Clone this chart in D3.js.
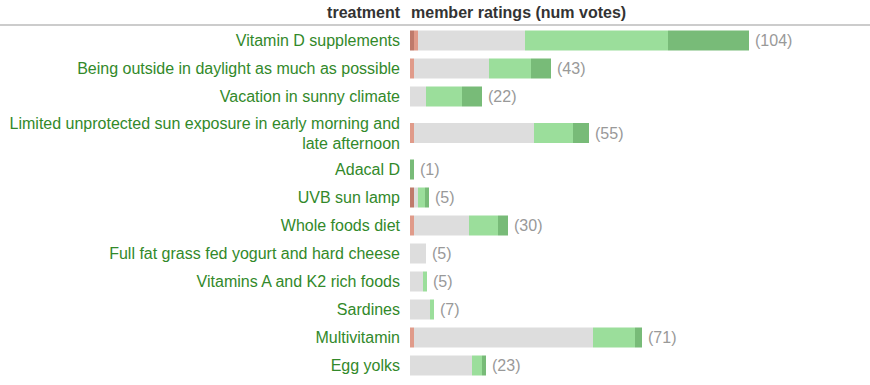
<!DOCTYPE html>
<html><head><meta charset="utf-8">
<script src="https://cdn.jsdelivr.net/npm/d3@7"></script>
<style>body{margin:0;background:#fff;} svg{display:block;}</style>
</head><body>
<script>
const treatments = [
  ["Vitamin D supplements"],
  ["Being outside in daylight as much as possible"],
  ["Vacation in sunny climate"],
  ["Limited unprotected sun exposure in early morning and", "late afternoon"],
  ["Adacal D"],
  ["UVB sun lamp"],
  ["Whole foods diet"],
  ["Full fat grass fed yogurt and hard cheese"],
  ["Vitamins A and K2 rich foods"],
  ["Sardines"],
  ["Multivitamin"],
  ["Egg yolks"]
];
// rating counts per treatment: [very negative, negative, neutral, positive, very positive]
const veryNegative = [1, 0, 0, 0, 0, 1, 0, 0, 0, 0, 0, 0];
const negative     = [1, 1, 0, 1, 0, 0, 1, 0, 0, 0, 1, 0];
const neutral      = [33, 23, 5, 37, 0, 1, 17, 5, 4, 6, 55, 19];
const positive     = [44, 13, 11, 12, 0, 2, 9, 0, 1, 1, 13, 3];
const veryPositive = [25, 6, 6, 5, 1, 1, 3, 0, 0, 0, 2, 1];
const headers = ["treatment", "member ratings (num votes)"];

const series = [veryNegative, negative, neutral, positive, veryPositive];
const colors = ["#bf7a6b", "#e09b8a", "#dddddd", "#9bde9b", "#78bb78"];

const W = 870, H = 385;
const svg = d3.select("body").append("svg").attr("width", W).attr("height", H);
const font = "'Liberation Sans', Arial, sans-serif";

const totals = treatments.map((t, i) => series.reduce((s, a) => s + a[i], 0));
const x = d3.scaleLinear().domain([0, 104]).range([0, 338]);
const barX = 410, labelX = 400;

// row layout
const singleH = 28, doubleH = 45;
let yc = [], cur = 40.5;
treatments.forEach((t, i) => {
  if (i > 0) {
    const hp = treatments[i - 1].length > 1 ? doubleH : singleH;
    const hc = t.length > 1 ? doubleH : singleH;
    cur += (hp + hc) / 2;
  }
  yc.push(cur);
});

// header
svg.append("text").attr("x", labelX).attr("y", 18).attr("text-anchor", "end")
  .attr("font-family", font).attr("font-size", 16).attr("font-weight", "bold").attr("fill", "#333")
  .text(headers[0]);
svg.append("text").attr("x", barX + 1).attr("y", 18)
  .attr("font-family", font).attr("font-size", 16).attr("font-weight", "bold").attr("fill", "#333")
  .text(headers[1]);
svg.append("rect").attr("x", 0).attr("y", 24).attr("width", W).attr("height", 2).attr("fill", "#cccccc");

const rows = svg.selectAll("g.row").data(treatments).join("g").attr("class", "row");

rows.each(function(t, i) {
  const g = d3.select(this);
  const lh = 20;
  const y0 = yc[i] - (t.length - 1) * lh / 2;
  t.forEach((line, k) => {
    g.append("text").attr("x", labelX).attr("y", y0 + k * lh + 5.5).attr("text-anchor", "end")
      .attr("font-family", font).attr("font-size", 16).attr("fill", "#32892a").text(line);
  });
  let xx = barX;
  series.forEach((s, si) => {
    const v = s[i];
    if (!v) return;
    const w = Math.max(4, Math.round(x(v)));
    g.append("rect").attr("x", xx).attr("y", yc[i] - 10).attr("width", w).attr("height", 20)
      .attr("fill", colors[si]);
    xx += w;
  });
  g.append("text").attr("x", xx + 6).attr("y", yc[i] + 5.5)
    .attr("font-family", font).attr("font-size", 16).attr("fill", "#999")
    .text("(" + totals[i] + ")");
});
</script>
</body></html>
